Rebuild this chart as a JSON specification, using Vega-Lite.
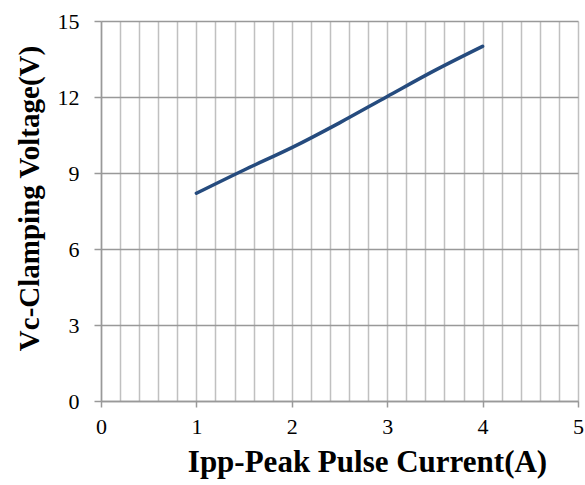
{
  "$schema": "https://vega.github.io/schema/vega-lite/v6.json",
  "autosize": "none",
  "width": 477,
  "height": 380,
  "padding": {"left": 101, "top": 21, "right": 7, "bottom": 84},
  "background": "white",
  "config": {
    "view": {"stroke": null},
    "font": "Liberation Serif",
    "axis": {"labelFont": "Liberation Serif", "labelFontSize": 22, "labelColor": "black"},
    "style": {"guide-label": {"font": "Liberation Serif", "fontSize": 22, "fill": "black"}}
  },
  "data": {"values": [
    {"x": 1, "y": 8.2},
    {"x": 1.5, "y": 9.12},
    {"x": 2, "y": 10.0},
    {"x": 2.5, "y": 10.98},
    {"x": 3, "y": 12.02},
    {"x": 3.5, "y": 13.05},
    {"x": 4, "y": 14.0}
  ]},
  "mark": {"type": "line", "color": "#254b7e", "strokeWidth": 3.5, "interpolate": "monotone", "strokeCap": "round"},
  "encoding": {
    "x": {"field": "x", "type": "quantitative", "scale": {"domain": [0, 5], "nice": false, "zero": false},
      "axis": {
        "title": "Ipp-Peak Pulse Current(A)",
        "values": [0,0.2,0.4,0.6,0.8,1,1.2,1.4,1.6,1.8,2,2.2,2.4,2.6,2.8,3,3.2,3.4,3.6,3.8,4,4.2,4.4,4.6,4.8,5],
        "labelExpr": "round(datum.value) == datum.value ? format(datum.value, 'd') : ''",
        "labelFont": "Liberation Serif", "labelFontSize": 22, "labelColor": "black", "labelPadding": 9, "labelFlush": false, "labelOverlap": false,
        "titleFont": "Liberation Serif", "titleFontSize": 31, "titleFontWeight": "bold", "titleColor": "black", "titlePadding": 10, "titleX": 266,
        "grid": true, "gridColor": "#c0c0c0", "gridWidth": 1.5,
        "domainColor": "#999999", "domainWidth": 1.5,
        "tickColor": "#999999", "tickWidth": 1.5, "tickSize": 6,
        "tickOpacity": {"condition": {"test": "round(datum.value) == datum.value", "value": 1}, "value": 0}
      }},
    "y": {"field": "y", "type": "quantitative", "scale": {"domain": [0, 15], "nice": false, "zero": true},
      "axis": {
        "title": "Vc-Clamping Voltage(V)",
        "values": [0,3,6,9,12,15],
        "labelFont": "Liberation Serif", "labelFontSize": 22, "labelColor": "black", "labelPadding": 15,
        "titleFont": "Liberation Serif", "titleFontSize": 29, "titleFontWeight": "bold", "titleColor": "black", "titlePadding": 13, "titleY": 177,
        "grid": true, "gridColor": "#999999", "gridWidth": 1.5,
        "domainColor": "#999999", "domainWidth": 1.5,
        "tickColor": "#999999", "tickWidth": 1.5, "tickSize": 7
      }}
  }
}
